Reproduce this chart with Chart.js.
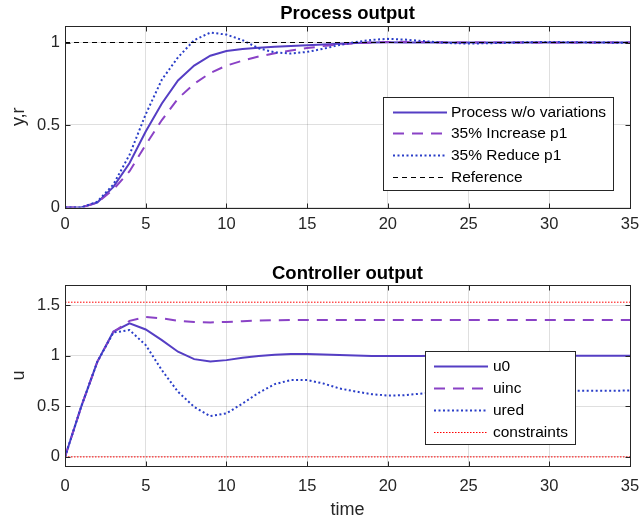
<!DOCTYPE html>
<html>
<head>
<meta charset="utf-8">
<script src="https://cdn.jsdelivr.net/npm/chart.js@4.4.0/dist/chart.umd.min.js"></script>
<style>
  body { margin: 0; background: #fff; }
  canvas { position: absolute; left: 0; }
  #processChart { top: 0; }
  #controlChart { top: 250px; }
</style>
</head>
<body>
<canvas id="processChart" width="640" height="250"></canvas>
<canvas id="controlChart" width="640" height="272"></canvas>
<script>
// time samples (s)
const time = [0, 1, 2, 3, 4, 5, 6, 7, 8, 9, 10, 11, 12, 13, 14, 15, 16, 17,
              18, 19, 20, 21, 22, 23, 24, 25, 26, 27, 28, 29, 30, 31, 32, 33, 34, 35];

// process output
const yNominal = [0, 0, 0.03, 0.125, 0.27, 0.46, 0.63, 0.77, 0.86, 0.92, 0.948, 0.96,
                  0.968, 0.974, 0.979, 0.983, 0.988, 0.993, 0.997, 1.0, 1.001, 1.0,
                  1.0, 1.0, 1.0, 1.0, 1.0, 1.0, 1.0, 1.0, 1.0, 1.0, 1.0, 1.0, 1.0, 1.0];
const yIncrease = [0, 0, 0.03, 0.11, 0.22, 0.38, 0.53, 0.66, 0.75, 0.815, 0.86, 0.89,
                   0.915, 0.935, 0.952, 0.966, 0.978, 0.988, 0.995, 1.0, 1.003, 1.004,
                   1.003, 1.002, 1.0, 1.0, 1.0, 1.0, 1.0, 1.0, 1.0, 1.0, 1.0, 1.0, 1.0, 1.0];
const yReduce = [0, 0, 0.035, 0.14, 0.32, 0.565, 0.775, 0.91, 1.014, 1.06, 1.048, 1.014,
                 0.965, 0.94, 0.933, 0.943, 0.962, 0.985, 1.003, 1.016, 1.022, 1.018,
                 1.01, 1.002, 0.996, 0.994, 0.995, 0.997, 1.0, 1.002, 1.003, 1.002,
                 1.001, 1.0, 0.999, 0.999];
const refTime = [0, 35];
const refValue = [1, 1];

// controller output
const uNominal = [0, 0.495, 0.94, 1.24, 1.32, 1.26, 1.155, 1.04, 0.967, 0.944, 0.957, 0.98,
                  0.997, 1.01, 1.017, 1.017, 1.013, 1.007, 1.002, 0.999, 0.998, 0.998,
                  0.999, 1.0, 1.0, 1.0, 1.0, 1.0, 1.0, 1.0, 1.0, 1.0, 1.0, 1.0, 1.0, 1.0];
const uIncrease = [0, 0.495, 0.94, 1.235, 1.345, 1.385, 1.37, 1.346, 1.333, 1.33, 1.335, 1.342,
                   1.348, 1.352, 1.354, 1.354, 1.354, 1.353, 1.353, 1.353, 1.353, 1.353,
                   1.353, 1.353, 1.353, 1.353, 1.353, 1.353, 1.353, 1.353, 1.353, 1.353,
                   1.353, 1.353, 1.353, 1.353];
const uReduce = [0, 0.495, 0.94, 1.23, 1.254, 1.106, 0.858, 0.644, 0.495, 0.403, 0.43, 0.528,
                 0.634, 0.72, 0.76, 0.76, 0.726, 0.677, 0.647, 0.62, 0.607, 0.61, 0.625,
                 0.64, 0.652, 0.66, 0.665, 0.665, 0.662, 0.658, 0.655, 0.653, 0.653,
                 0.654, 0.655, 0.656];
const constraintTime = [0, 35];
const uMin = [0, 0];
const uMax = [1.53, 1.53];

// ticks
const timeTicks = [0, 5, 10, 15, 20, 25, 30, 35];
const yTicks = [0, 0.5, 1];
const uTicks = [0, 0.5, 1, 1.5];

const FONT = '"Liberation Sans", Arial, Helvetica, sans-serif';
const AXIS = '#262626';
const GRID = 'rgba(38,38,38,0.15)';

function pts(xs, ys) {
    return xs.map((x, i) => ({ x: x, y: ys[i] }));
}

// box round the axes, inward ticks and a floating legend
const matlabAxes = {
    id: 'matlabAxes',
    afterDatasetsDraw(chart) {
        const { ctx, chartArea: a, scales: { x, y } } = chart;
        const L = Math.round(a.left) + 0.5, R = Math.round(a.right) + 0.5;
        const T = Math.round(a.top) + 0.5, B = Math.round(a.bottom) + 0.5;
        ctx.save();
        ctx.strokeStyle = AXIS;
        ctx.lineWidth = 1;
        ctx.setLineDash([]);
        ctx.beginPath();
        x.ticks.forEach(t => {
            const px = Math.round(x.getPixelForValue(t.value)) + 0.5;
            ctx.moveTo(px, B); ctx.lineTo(px, B - 5);
            ctx.moveTo(px, T); ctx.lineTo(px, T + 5);
        });
        y.ticks.forEach(t => {
            const py = Math.round(y.getPixelForValue(t.value)) + 0.5;
            ctx.moveTo(L, py); ctx.lineTo(L + 5, py);
            ctx.moveTo(R, py); ctx.lineTo(R - 5, py);
        });
        ctx.stroke();
        ctx.strokeRect(L, T, R - L, B - T);
        ctx.restore();
    },
    afterDraw(chart, args, opts) {
        if (!opts.box) return;
        const { ctx } = chart;
        const b = opts.box;
        ctx.save();
        ctx.fillStyle = '#fff';
        ctx.fillRect(b.x, b.y, b.w, b.h);
        ctx.strokeStyle = AXIS;
        ctx.lineWidth = 1;
        ctx.strokeRect(b.x + 0.5, b.y + 0.5, b.w, b.h);
        ctx.font = opts.fontSize + 'px ' + FONT;
        ctx.textBaseline = 'middle';
        ctx.textAlign = 'left';
        let row = 0;
        chart.data.datasets.forEach(ds => {
            if (!ds.label) return;
            const cy = Math.round(b.y + opts.firstRow + row * opts.rowH) + 0.5;
            ctx.strokeStyle = ds.borderColor;
            ctx.lineWidth = ds.borderWidth;
            ctx.setLineDash(ds.borderDash || []);
            ctx.beginPath();
            ctx.moveTo(b.x + opts.lineFrom, cy);
            ctx.lineTo(b.x + opts.lineTo, cy);
            ctx.stroke();
            ctx.fillStyle = '#000';
            ctx.fillText(ds.label, b.x + opts.textAt, cy);
            row++;
        });
        ctx.restore();
    }
};

function axisOptions(ticks, min, max, fixedSize, title, tickPad) {
    return {
        type: 'linear',
        min: min,
        max: max,
        afterBuildTicks: s => { s.ticks = ticks.map(v => ({ value: v })); },
        afterFit: s => {
            if (s.isHorizontal()) s.height = fixedSize; else s.width = fixedSize;
            s.paddingLeft = 0;
            s.paddingRight = 0;
            s.paddingTop = 0;
            s.paddingBottom = 0;
        },
        grid: { color: GRID, drawTicks: false },
        border: { display: false },
        ticks: {
            color: AXIS,
            padding: tickPad,
            font: { family: FONT, size: 16.5 },
            callback: v => String(v)
        },
        title: title
    };
}

function baseOptions(titleText, titlePad, xScale, yScale, legend) {
    return {
        responsive: false,
        animation: false,
        layout: { padding: { left: 0, right: 10, top: 0, bottom: 0 } },
        plugins: {
            legend: { display: false },
            tooltip: { enabled: false },
            title: {
                display: true,
                text: titleText,
                fullSize: false,
                color: '#000',
                padding: titlePad,
                font: { family: FONT, size: 18.5, weight: 'bold' }
            },
            matlabAxes: legend
        },
        scales: { x: xScale, y: yScale }
    };
}

const lineDefaults = { pointRadius: 0, tension: 0, fill: false };

// Process output chart
const ctxTop = document.getElementById('processChart').getContext('2d');
const processChart = new Chart(ctxTop, {
    type: 'line',
    data: {
        datasets: [
            Object.assign({ label: 'Process w/o variations', data: pts(time, yNominal),
                borderColor: '#553ec4', borderWidth: 2, order: 4 }, lineDefaults),
            Object.assign({ label: '35% Increase p1', data: pts(time, yIncrease),
                borderColor: '#8a42c6', borderWidth: 2, borderDash: [11, 8], order: 3 }, lineDefaults),
            Object.assign({ label: '35% Reduce p1', data: pts(time, yReduce),
                borderColor: '#2a3ec8', borderWidth: 2, borderDash: [2, 2.5], order: 2 }, lineDefaults),
            Object.assign({ label: 'Reference', data: pts(refTime, refValue),
                borderColor: '#000', borderWidth: 1, borderDash: [5, 4], order: 1 }, lineDefaults)
        ]
    },
    options: baseOptions('Process output', { top: 3, bottom: 0.8 },
        axisOptions(timeTicks, 0, 35, 42.5, { display: false }, 7),
        axisOptions(yTicks, 0, 1.1, 65, {
            display: true, text: 'y,r', color: AXIS,
            padding: { top: 8, bottom: 0 },
            font: { family: FONT, size: 18 }
        }, 5),
        { box: { x: 383, y: 97, w: 230, h: 93 }, fontSize: 15.5, firstRow: 14.5,
          rowH: 21.7, lineFrom: 10, lineTo: 64, textAt: 68 }),
    plugins: [matlabAxes]
});

// Controller output chart
const ctxBottom = document.getElementById('controlChart').getContext('2d');
const controlChart = new Chart(ctxBottom, {
    type: 'line',
    data: {
        datasets: [
            Object.assign({ label: 'u0', data: pts(time, uNominal),
                borderColor: '#553ec4', borderWidth: 2, order: 5 }, lineDefaults),
            Object.assign({ label: 'uinc', data: pts(time, uIncrease),
                borderColor: '#8a42c6', borderWidth: 2, borderDash: [11, 8], order: 4 }, lineDefaults),
            Object.assign({ label: 'ured', data: pts(time, uReduce),
                borderColor: '#2a3ec8', borderWidth: 2, borderDash: [2, 2.5], order: 3 }, lineDefaults),
            Object.assign({ label: 'constraints', data: pts(constraintTime, uMax),
                borderColor: '#ff0000', borderWidth: 1, borderDash: [1.5, 1.5], order: 2 }, lineDefaults),
            Object.assign({ label: '', data: pts(constraintTime, uMin),
                borderColor: '#ff0000', borderWidth: 1, borderDash: [1.5, 1.5], order: 1 }, lineDefaults)
        ]
    },
    options: baseOptions('Controller output', { top: 12.5, bottom: 0.3 },
        axisOptions(timeTicks, 0, 35, 56, {
            display: true, text: 'time', color: AXIS,
            padding: { top: 0, bottom: 1 },
            font: { family: FONT, size: 18 }
        }, 11),
        axisOptions(uTicks, -0.09, 1.7, 65, {
            display: true, text: 'u', color: AXIS,
            padding: { top: 8, bottom: 0 },
            font: { family: FONT, size: 18 }
        }, 5),
        { box: { x: 425, y: 101, w: 150, h: 93 }, fontSize: 15.5, firstRow: 15,
          rowH: 21.9, lineFrom: 9, lineTo: 63, textAt: 68 }),
    plugins: [matlabAxes]
});
</script>
</body>
</html>
